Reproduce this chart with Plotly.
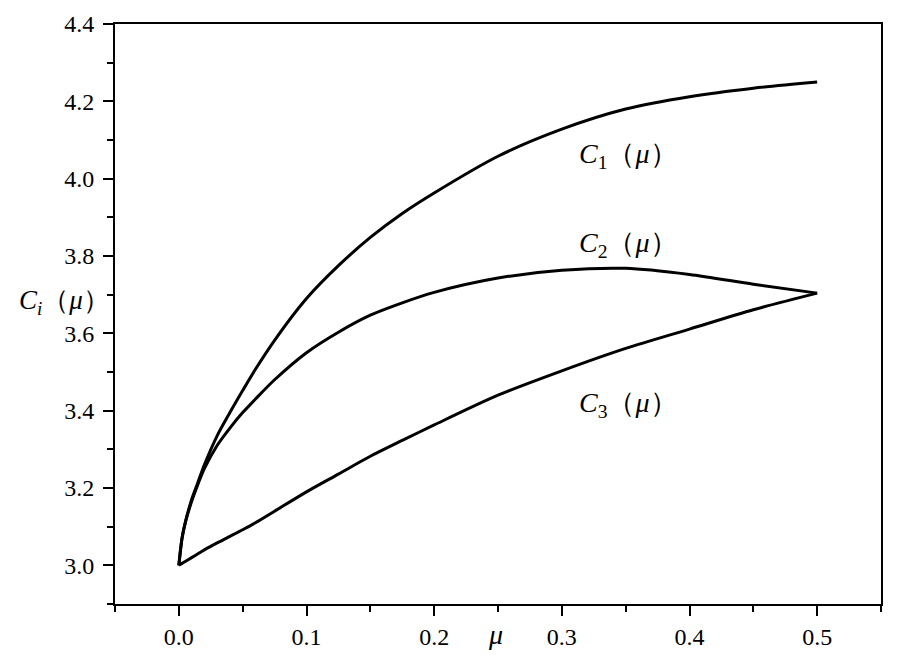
import plotly.graph_objects as go

# mu values and the three curves C1, C2, C3
mu = [0.0, 0.0025, 0.005, 0.01, 0.015, 0.02, 0.03, 0.04, 0.05, 0.06, 0.075,
      0.1, 0.125, 0.15, 0.175, 0.2, 0.25, 0.3, 0.35, 0.4, 0.45, 0.5]
c1 = [3.0, 3.07, 3.11, 3.17, 3.215, 3.26, 3.335, 3.395, 3.452, 3.507, 3.582,
      3.69, 3.775, 3.848, 3.91, 3.963, 4.058, 4.128, 4.18, 4.212, 4.234, 4.25]
c2 = [3.0, 3.07, 3.11, 3.165, 3.21, 3.25, 3.31, 3.355, 3.395, 3.43, 3.48,
      3.55, 3.603, 3.647, 3.679, 3.706, 3.743, 3.763, 3.768, 3.752, 3.727, 3.704]
c3 = [3.0, 3.005, 3.01, 3.02, 3.03, 3.04, 3.058, 3.075, 3.092, 3.11, 3.14,
      3.19, 3.236, 3.282, 3.323, 3.363, 3.44, 3.503, 3.561, 3.611, 3.661, 3.704]

curve_labels = ['<i>C</i><sub>1</sub>（<i>μ</i>）',
                '<i>C</i><sub>2</sub>（<i>μ</i>）',
                '<i>C</i><sub>3</sub>（<i>μ</i>）']
label_x = [0.312, 0.312, 0.312]
label_y = [4.06, 3.83, 3.415]

FONT = 'Liberation Serif'

fig = go.Figure()
for ys in (c1, c2, c3):
    fig.add_trace(go.Scatter(
        x=mu, y=ys, mode='lines',
        line=dict(color='black', width=3, shape='spline', smoothing=0.8),
        showlegend=False
    ))

for txt, lx, ly in zip(curve_labels, label_x, label_y):
    fig.add_annotation(text=txt, x=lx, y=ly, xanchor='left', yanchor='middle',
                       showarrow=False, font=dict(family=FONT, size=28, color='black'))

# y axis title, written horizontally at the left
fig.add_annotation(text='<i>C</i><sub><i>i</i></sub>（<i>μ</i>）',
                   xref='paper', yref='y', x=-0.128, y=3.68,
                   xanchor='left', yanchor='middle', showarrow=False,
                   font=dict(family=FONT, size=27, color='black'))
# x axis title, sitting between tick labels
fig.add_annotation(text='<i>μ</i>', xref='x', yref='paper', x=0.248, y=-0.053,
                   xanchor='center', yanchor='middle', showarrow=False,
                   font=dict(family=FONT, size=28, color='black'))

axis_style = dict(
    showline=True, linecolor='black', linewidth=2, mirror=True,
    showgrid=False, zeroline=False, automargin=False,
    ticks='outside', ticklen=10, tickwidth=2, tickcolor='black',
    tickfont=dict(family=FONT, size=24, color='black'),
)

fig.update_xaxes(range=[-0.05, 0.55], tickvals=[0, 0.1, 0.2, 0.3, 0.4, 0.5],
                 ticktext=['0.0', '0.1', '0.2', '0.3', '0.4', '0.5'],
                 minor=dict(ticks='outside', ticklen=6, tickwidth=2, tickcolor='black',
                            tickvals=[-0.05, 0.05, 0.15, 0.25, 0.35, 0.45, 0.55]),
                 **axis_style)
fig.update_yaxes(range=[2.9, 4.4], tickvals=[3.0, 3.2, 3.4, 3.6, 3.8, 4.0, 4.2, 4.4],
                 ticktext=['3.0', '3.2', '3.4', '3.6', '3.8', '4.0', '4.2', '4.4'],
                 ticklabelstandoff=4,
                 minor=dict(ticks='outside', ticklen=6, tickwidth=2, tickcolor='black',
                            tickvals=[2.9, 3.1, 3.3, 3.5, 3.7, 3.9, 4.1, 4.3]),
                 **axis_style)

# the page body adds an 8px offset, so the figure is a bit smaller
fig.update_layout(
    width=898, height=653,
    margin=dict(l=107, r=25, t=16, b=57),
    plot_bgcolor='white', paper_bgcolor='white',
    font=dict(family=FONT, color='black'),
)

fig.write_html("out.html")
